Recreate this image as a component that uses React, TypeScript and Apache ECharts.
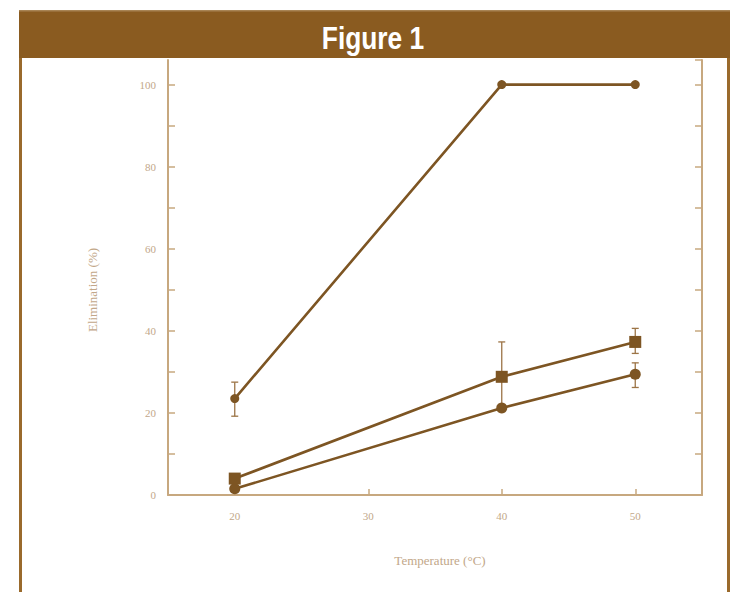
import React, { useEffect, useRef } from "react";
import * as echarts from "echarts";

const temperatures = [20, 40, 50];
const seriesA = [23.5, 100, 100];
const seriesB = [4, 28.8, 37.3];
const seriesC = [1.5, 21.2, 29.4];
// error bars: [x, low, high]
const errorBars = [
  [20, 19.2, 27.5],
  [40, 22.0, 37.3],
  [50, 34.5, 40.6],
  [50, 26.2, 32.2],
];
const xTicks = [20, 30, 40, 50];

const BROWN = "#8a5b20";
const LINE = "#7d5523";
const AXIS = "#c7a87f";
const TEXT = "#c2a789";

export default function App() {
  const ref = useRef<HTMLDivElement>(null);
  useEffect(() => {
    if (!ref.current) return;
    const chart = echarts.init(ref.current, undefined, { renderer: "svg" });
    const lineSeries = (data: number[], symbol: string, size: number) => ({
      type: "line",
      data: temperatures.map((t, i) => [t, data[i]]),
      symbol,
      symbolSize: size,
      lineStyle: { color: LINE, width: 2.6 },
      itemStyle: { color: LINE },
      z: 3,
    });
    chart.setOption({
      animation: false,
      backgroundColor: "#ffffff",
      grid: { left: 168, right: 39, top: 60, bottom: 97 },
      xAxis: {
        type: "value",
        min: 15,
        max: 55,
        axisLine: { lineStyle: { color: AXIS, width: 2 } },
        axisTick: { inside: true, length: 6, customValues: xTicks, lineStyle: { color: AXIS, width: 1.5 } },
        axisLabel: {
          customValues: xTicks,
          margin: 15,
          color: TEXT,
          fontFamily: "Liberation Serif, serif",
          fontSize: 11,
        },
        splitLine: { show: false },
      },
      yAxis: [
        {
          type: "value",
          min: 0,
          max: 106,
          interval: 10,
          position: "left",
          axisLine: { show: true, lineStyle: { color: AXIS, width: 2 } },
          axisTick: { show: true, inside: true, length: 7, lineStyle: { color: AXIS, width: 1.5 } },
          axisLabel: {
            showMaxLabel: false,
            margin: 12,
            color: TEXT,
            fontFamily: "Liberation Serif, serif",
            fontSize: 11,
            formatter: (v: number) => (v % 20 === 0 ? String(v) : ""),
          },
          splitLine: { show: false },
        },
        {
          type: "value",
          min: 0,
          max: 106,
          interval: 10,
          position: "right",
          axisLine: { show: true, lineStyle: { color: AXIS, width: 2 } },
          axisTick: { show: true, inside: true, length: 7, lineStyle: { color: AXIS, width: 1.5 } },
          axisLabel: { show: false },
          splitLine: { show: false },
        },
      ],
      graphic: [
        { type: "rect", shape: { x: 19, y: 10, width: 711, height: 48 }, style: { fill: BROWN }, z: 10 },
        { type: "rect", shape: { x: 19, y: 10, width: 711, height: 1.5 }, style: { fill: "#a88454" }, z: 11 },
        { type: "rect", shape: { x: 19, y: 58, width: 3, height: 534 }, style: { fill: "#9a6a2c" }, z: 10 },
        { type: "rect", shape: { x: 727, y: 58, width: 3, height: 534 }, style: { fill: "#9a6a2c" }, z: 10 },
        {
          type: "text",
          x: 373,
          y: 38,
          scaleX: 0.85,
          z: 12,
          style: {
            text: "Figure 1",
            fill: "#ffffff",
            fontFamily: "Liberation Sans, Arial, sans-serif",
            fontWeight: "bold",
            fontSize: 31,
            align: "center",
            verticalAlign: "middle",
          },
        },
        {
          type: "text",
          x: 92,
          y: 290,
          rotation: Math.PI / 2,
          z: 12,
          style: {
            text: "Elimination (%)",
            fill: TEXT,
            fontFamily: "Liberation Serif, serif",
            fontSize: 13,
            align: "center",
            verticalAlign: "middle",
          },
        },
        {
          type: "text",
          x: 440,
          y: 560,
          z: 12,
          style: {
            text: "Temperature (°C)",
            fill: TEXT,
            fontFamily: "Liberation Serif, serif",
            fontSize: 13,
            align: "center",
            verticalAlign: "middle",
          },
        },
      ],
      series: [
        {
          type: "custom",
          data: errorBars,
          z: 2,
          renderItem: (params: any, api: any) => {
            const x = api.value(0);
            const lo = api.coord([x, api.value(1)]);
            const hi = api.coord([x, api.value(2)]);
            const cap = 3.5;
            const st = { stroke: "#9c7446", lineWidth: 1.3 };
            return {
              type: "group",
              children: [
                { type: "line", shape: { x1: lo[0], y1: lo[1], x2: hi[0], y2: hi[1] }, style: st },
                { type: "line", shape: { x1: lo[0] - cap, y1: lo[1], x2: lo[0] + cap, y2: lo[1] }, style: st },
                { type: "line", shape: { x1: hi[0] - cap, y1: hi[1], x2: hi[0] + cap, y2: hi[1] }, style: st },
              ],
            };
          },
        },
        lineSeries(seriesA, "circle", 9),
        lineSeries(seriesB, "rect", 12),
        lineSeries(seriesC, "circle", 11),
      ],
    });
    return () => chart.dispose();
  }, []);
  return (
    <div
      ref={ref}
      style={{ position: "fixed", left: 0, top: 0, width: 741, height: 592 }}
    />
  );
}
